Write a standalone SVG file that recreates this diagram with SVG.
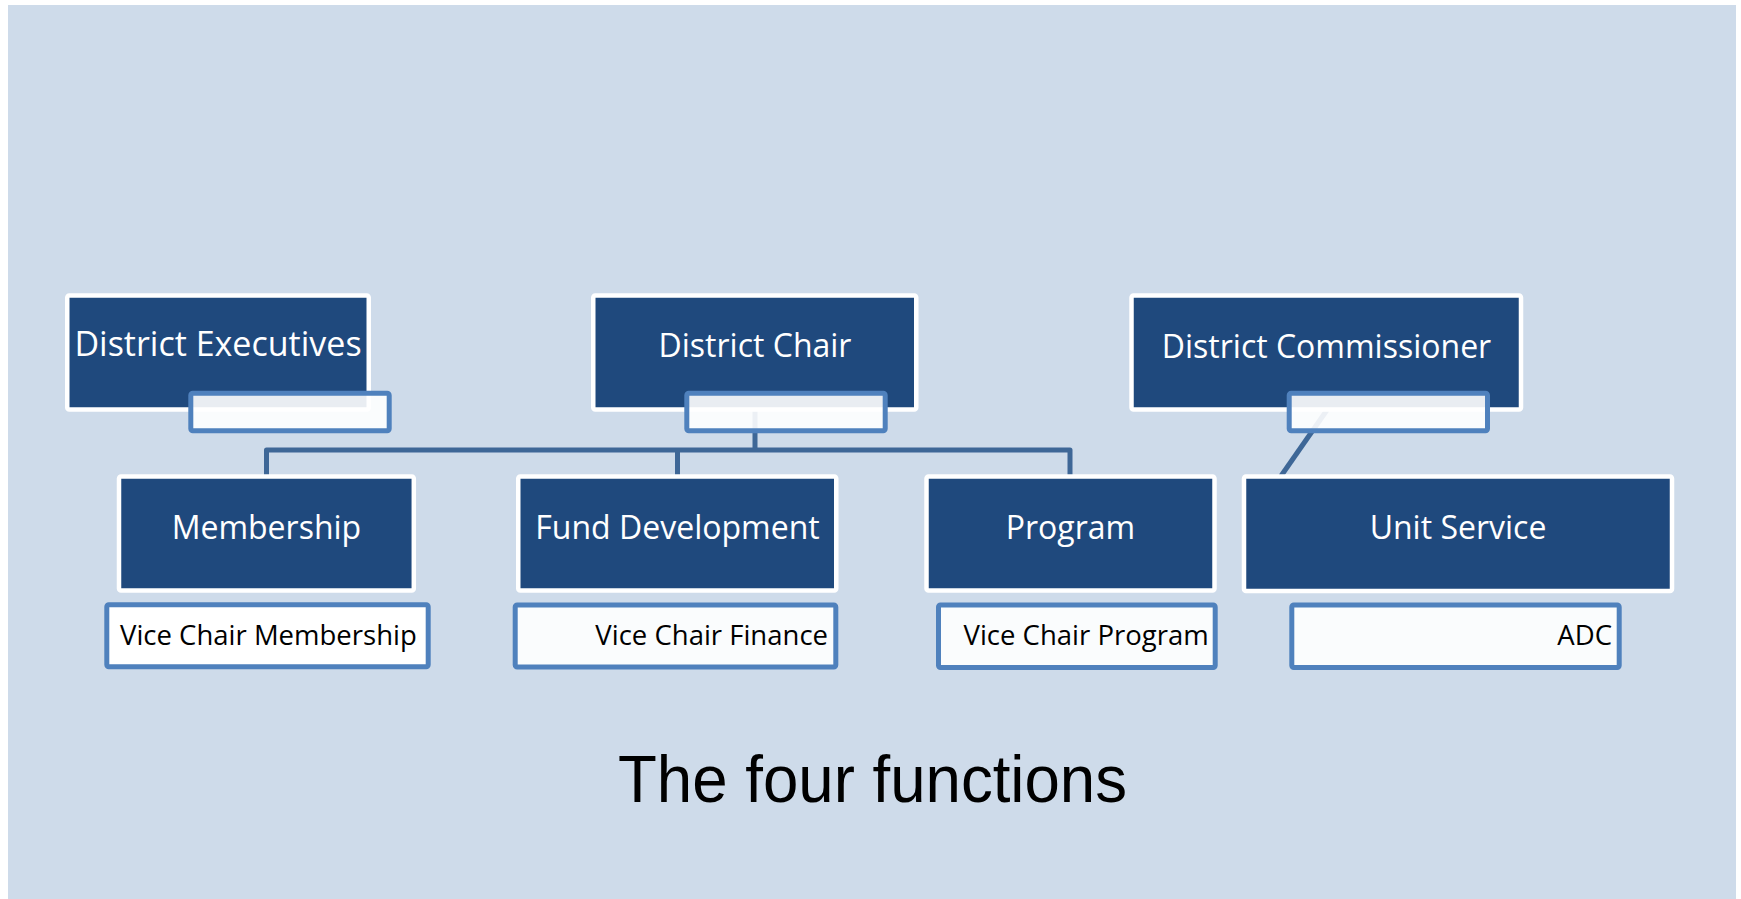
<svg xmlns="http://www.w3.org/2000/svg" width="1741" height="899" viewBox="0 0 1741 899">
<style>
.bg{fill:#CEDBEA}
.main{fill:#1F497D;stroke:#FFFFFF;stroke-width:4.5}
.sub{fill:#FFFFFF;fill-opacity:0.9;stroke:#4F81BD;stroke-width:5}
.conn{fill:none;stroke:#3E6797;stroke-width:5;stroke-linejoin:round}
.lbl{font-family:"Open Sans","Noto Sans","Liberation Sans",sans-serif;fill:#FFFFFF;font-size:32px;text-anchor:middle}
.slbl{font-family:"Open Sans","Noto Sans","Liberation Sans",sans-serif;fill:#000000;font-size:27.5px}
.title{font-family:"Liberation Sans",Arial,sans-serif;fill:#000000;font-size:66px;text-anchor:middle}
</style>
<rect x="0" y="0" width="1741" height="899" fill="#FFFFFF"/>
<rect class="bg" x="8" y="5" width="1728" height="894"/>
<g id="connectors">
<path class="conn" d="M266.5,476 V450 H1070 V476"/>
<path class="conn" d="M677.5,450 V476"/>
<path class="conn" d="M755,410 V450"/>
<path class="conn" d="M1327,410 L1281,476"/>
</g>
<g id="district-executives">
<rect class="main" x="67.25" y="295.5" width="301.5" height="114" rx="2"/>
<text class="lbl" x="218" y="356" style="font-size:34px">District Executives</text>
<rect class="sub" x="190.8" y="393.2" width="198.4" height="37.6" rx="2"/>
</g>
<g id="district-chair">
<rect class="main" x="593.25" y="295.5" width="323" height="114" rx="2"/>
<text class="lbl" x="755" y="357">District Chair</text>
<rect class="sub" x="686.8" y="393.2" width="198.4" height="37.6" rx="2"/>
</g>
<g id="district-commissioner">
<rect class="main" x="1131.5" y="295.5" width="389.5" height="114" rx="2"/>
<text class="lbl" x="1326.5" y="357.5">District Commissioner</text>
<rect class="sub" x="1289.2" y="393.2" width="198.3" height="37.6" rx="2"/>
</g>
<g id="membership">
<rect class="main" x="119" y="476.5" width="294.8" height="114" rx="2"/>
<text class="lbl" x="266.4" y="538.5">Membership</text>
</g>
<g id="vice-chair-membership">
<rect class="sub" x="106.8" y="604.8" width="321.4" height="62" rx="2" style="fill-opacity:1"/>
<text class="slbl" x="120" y="645">Vice Chair Membership</text>
</g>
<g id="fund-development">
<rect class="main" x="518.25" y="476.5" width="318" height="114" rx="2"/>
<text class="lbl" x="677.5" y="538.5">Fund Development</text>
</g>
<g id="vice-chair-finance">
<rect class="sub" x="515.2" y="605" width="320.6" height="62" rx="2"/>
<text class="slbl" x="828" y="645" text-anchor="end">Vice Chair Finance</text>
</g>
<g id="program">
<rect class="main" x="926.5" y="476.5" width="288" height="114" rx="2"/>
<text class="lbl" x="1070.5" y="538.5">Program</text>
</g>
<g id="vice-chair-program">
<rect class="sub" x="938.5" y="605" width="276.7" height="62.5" rx="2"/>
<text class="slbl" x="963.5" y="645">Vice Chair Program</text>
</g>
<g id="unit-service">
<rect class="main" x="1244" y="476.5" width="428" height="114.5" rx="2"/>
<text class="lbl" x="1458" y="538.5">Unit Service</text>
</g>
<g id="adc">
<rect class="sub" x="1291.8" y="605" width="327.4" height="62.5" rx="2"/>
<text class="slbl" x="1612" y="645" text-anchor="end">ADC</text>
</g>
<g id="title">
<text class="title" x="872.5" y="802" textLength="509" lengthAdjust="spacingAndGlyphs">The four functions</text>
</g>
</svg>
